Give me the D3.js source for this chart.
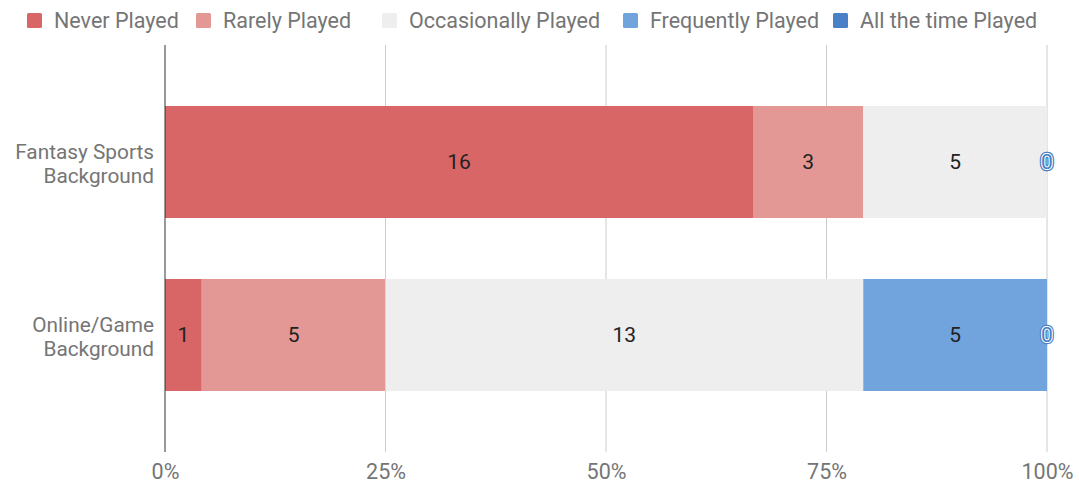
<!DOCTYPE html>
<html>
<head>
<meta charset="utf-8">
<script src="https://cdn.jsdelivr.net/npm/d3@7"></script>
<style>
  html, body { margin: 0; padding: 0; background: #fff; }
  svg { display: block; font-family: Roboto, "Noto Sans", sans-serif; }
</style>
</head>
<body>
<svg id="chart" width="1079" height="484"></svg>
<script>
// Survey responses per background, stacked to 100%
const categories = [["Fantasy Sports", "Background"], ["Online/Game", "Background"]];
const seriesNames = ["Never Played", "Rarely Played", "Occasionally Played", "Frequently Played", "All the time Played"];
const seriesColors = ["#d96666", "#e49896", "#eeeeee", "#71a4dd", "#4a80c6"];
const neverPlayed = [16, 1];
const rarelyPlayed = [3, 5];
const occasionallyPlayed = [5, 13];
const frequentlyPlayed = [0, 5];
const allTheTimePlayed = [0, 0];
const tickValues = [0, 0.25, 0.5, 0.75, 1];
const tickLabels = ["0%", "25%", "50%", "75%", "100%"];

const seriesValues = [neverPlayed, rarelyPlayed, occasionallyPlayed, frequentlyPlayed, allTheTimePlayed];

const svg = d3.select("#chart");
const plot = { left: 165, right: 1047, top: 45, bottom: 452 };
const labelSize = 21.5;

const x = d3.scaleLinear().domain([0, 1]).range([plot.left, plot.right]);
const y = d3.scaleBand().domain(d3.range(categories.length))
  .range([plot.top, plot.bottom]).paddingInner(0.3526).paddingOuter(0.3526);

// Gridlines
svg.append("g").selectAll("line").data(tickValues.slice(1)).join("line")
  .attr("x1", d => x(d)).attr("x2", d => x(d))
  .attr("y1", plot.top).attr("y2", plot.bottom)
  .attr("stroke", "#cccccc").attr("stroke-width", 1);

// Stack rows into fractions
const rows = categories.map((c, i) => {
  const row = { idx: i };
  seriesNames.forEach((s, j) => row[s] = seriesValues[j][i]);
  return row;
});
const stacked = d3.stack().keys(seriesNames)
  .offset(d3.stackOffsetExpand)(rows);

const layers = svg.append("g").selectAll("g").data(stacked).join("g")
  .attr("fill", (d, i) => seriesColors[i]);
layers.selectAll("rect").data(d => d).join("rect")
  .attr("x", d => x(d[0]))
  .attr("width", d => x(d[1]) - x(d[0]))
  .attr("y", d => y(d.data.idx))
  .attr("height", y.bandwidth());

// Value labels
stacked.forEach((layer, j) => {
  layer.forEach(d => {
    const v = d.data[layer.key];
    const cx = (x(d[0]) + x(d[1])) / 2;
    const cy = y(d.data.idx) + y.bandwidth() / 2 + 7;
    if (v > 0) {
      svg.append("text").attr("x", cx).attr("y", cy)
        .attr("text-anchor", "middle").attr("font-size", 21)
        .attr("fill", "#222").text(v);
    } else {
      // zero-width segment: outlined blue label at the bar end
      const col = seriesColors[j];
      svg.append("text").attr("x", cx).attr("y", cy)
        .attr("text-anchor", "middle").attr("font-size", 21)
        .attr("fill", col).attr("stroke", col).attr("stroke-width", 4.5)
        .attr("stroke-linejoin", "round").text(v);
      svg.append("text").attr("x", cx).attr("y", cy)
        .attr("text-anchor", "middle").attr("font-size", 21)
        .attr("fill", col).attr("stroke", "#fff").attr("stroke-width", 2.2)
        .attr("paint-order", "stroke").text(v);
    }
  });
});

// Baseline axis
svg.append("line").attr("x1", plot.left).attr("x2", plot.left)
  .attr("y1", plot.top).attr("y2", plot.bottom)
  .attr("stroke", "#333").attr("stroke-width", 1);

// Bottom tick labels
const xAxis = d3.axisBottom(x).tickValues(tickValues)
  .tickFormat((d, i) => tickLabels[i]).tickSize(0).tickPadding(0);
const gx = svg.append("g").attr("transform", `translate(0,${plot.bottom + 12})`).call(xAxis);
gx.select(".domain").remove();
gx.selectAll("text").attr("font-size", labelSize).attr("fill", "#757575")
  .attr("font-family", "Roboto, sans-serif").attr("dy", "0.71em");

// Category labels, two lines each
categories.forEach((lines, i) => {
  const cy = y(i) + y.bandwidth() / 2;
  lines.forEach((ln, k) => {
    svg.append("text").attr("text-anchor", "end")
      .attr("font-size", 20.8).attr("fill", "#757575")
      .attr("x", plot.left - 11)
      .attr("y", cy + 9 + (k - (lines.length - 1) / 2) * 24.5).text(ln);
  });
});

// Legend: items spread across the top row
const legendX = [27, 196, 382, 623, 833];
const legend = svg.append("g");
seriesNames.forEach((name, i) => {
  legend.append("rect").attr("x", legendX[i]).attr("y", 13).attr("width", 15).attr("height", 15)
    .attr("rx", 1.5).attr("fill", seriesColors[i]);
  legend.append("text").attr("x", legendX[i] + 27).attr("y", 28)
    .attr("font-size", labelSize).attr("fill", "#757575").text(name);
});
</script>
</body>
</html>
